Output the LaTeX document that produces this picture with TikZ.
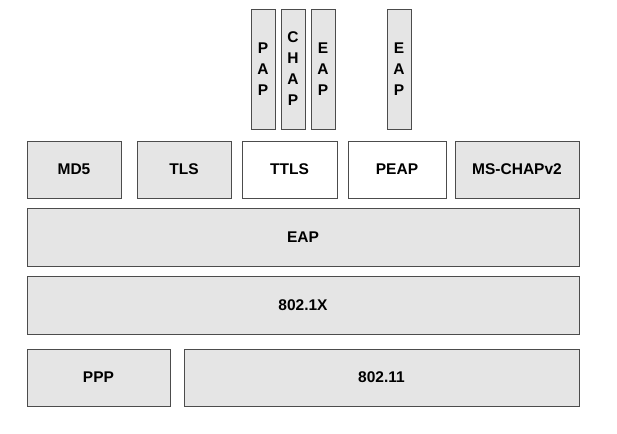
\documentclass[tikz,border=0pt]{standalone}
\usepackage{fontspec}
\setmainfont{Liberation Sans}
\begin{document}
\begin{tikzpicture}[x=1pt,y=-1pt,
  box/.style={draw=black!70,fill=black!10,line width=0.7pt},
  wbox/.style={box,fill=white},
  lbl/.style={font=\bfseries\fontsize{15.5}{18}\selectfont},
  vlbl/.style={align=center,font=\bfseries\fontsize{15.5}{21}\selectfont}]
\useasboundingbox (0,0) rectangle (617,433);
\draw[box] (251,9) rectangle (275,129) node[midway,vlbl] (pap) {P\\A\\P};
\draw[box] (281,9) rectangle (305,129) node[midway,vlbl] (chap) {C\\H\\A\\P};
\draw[box] (311,9) rectangle (335,129) node[midway,vlbl] (eap1) {E\\A\\P};
\draw[box] (387,9) rectangle (411,129) node[midway,vlbl] (eap2) {E\\A\\P};
\draw[box] (27,141) rectangle (121,198) node[midway,lbl] (md5) {MD5};
\draw[box] (137,141) rectangle (231,198) node[midway,lbl] (tls) {TLS};
\draw[wbox] (242,141) rectangle (337,198) node[midway,lbl] (ttls) {TTLS};
\draw[wbox] (348,141) rectangle (446,198) node[midway,lbl] (peap) {PEAP};
\draw[box] (455,141) rectangle (579,198) node[midway,lbl] (ms) {MS-CHAPv2};
\draw[box] (27,208) rectangle (579,266) node[midway,lbl] (eap) {EAP};
\draw[box] (27,276) rectangle (579,334) node[midway,lbl] (dot1x) {802.1X};
\draw[box] (27,349) rectangle (170,406) node[midway,lbl] (ppp) {PPP};
\draw[box] (184,349) rectangle (579,406) node[midway,lbl] (w) {802.11};
\end{tikzpicture}
\end{document}
